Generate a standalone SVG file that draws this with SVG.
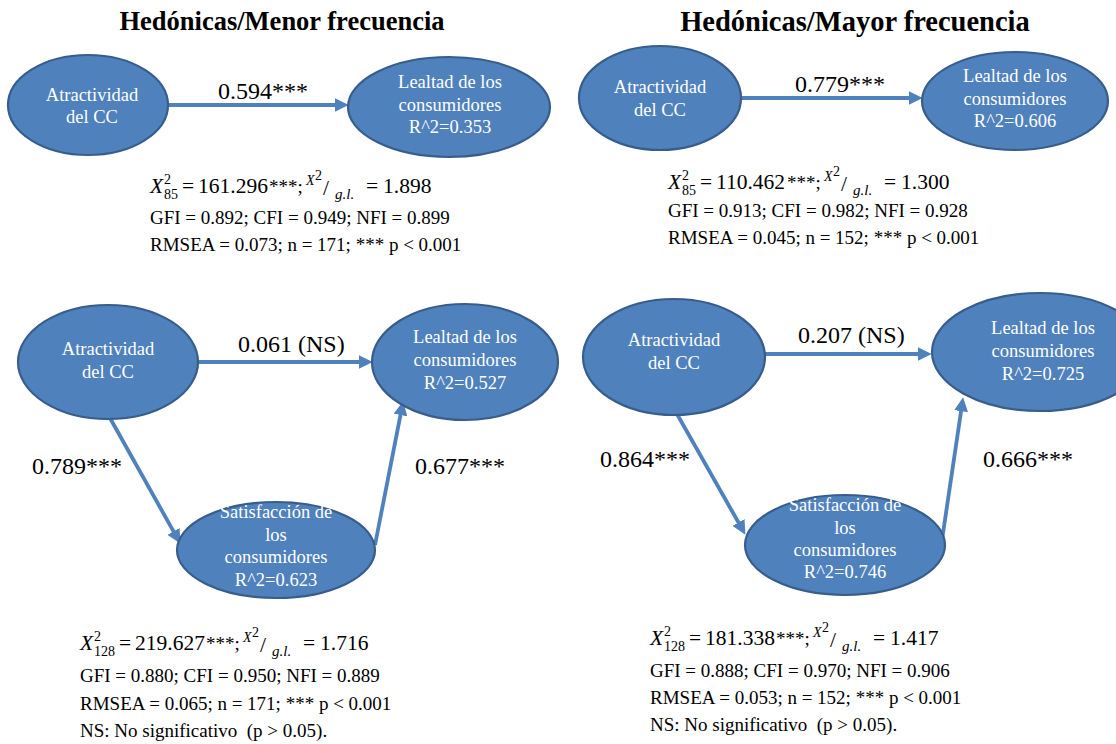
<svg xmlns="http://www.w3.org/2000/svg" width="1116" height="744" viewBox="0 0 1116 744">
  <style>
    .title { font-family: "Liberation Serif", "Times New Roman", serif; font-weight: bold; fill: #000; text-anchor: middle; }
    .node ellipse { fill: #4F81BD; stroke: #385D8A; stroke-width: 2.2; }
    .node text { font-family: "Liberation Serif", "Times New Roman", serif; font-size: 18.5px; fill: #FFFFFF; text-anchor: middle; }
    .edge { stroke: #4F81BD; stroke-width: 3.8; fill: none; marker-end: url(#arrow); }
    .coef { font-family: "Liberation Serif", "Times New Roman", serif; font-size: 24px; fill: #000; }
    .fit { font-family: "Liberation Serif", "Times New Roman", serif; font-size: 19px; fill: #000; }
    .m { font-family: "Liberation Serif", "Times New Roman", serif; font-size: 21.5px; fill: #000; }
    .mi { font-family: "Liberation Serif", "Times New Roman", serif; font-style: italic; fill: #000; }
    .ms { font-family: "Liberation Serif", "Times New Roman", serif; font-size: 14px; fill: #000; }
  </style>
  <defs>
    <marker id="arrow" markerUnits="userSpaceOnUse" markerWidth="14" markerHeight="14" viewBox="0 0 13 13" refX="4" refY="6.5" orient="auto">
      <path d="M0,0 L13,6.5 L0,13 z" fill="#4F81BD"/>
    </marker>
  </defs>

  <!-- panel titles -->
  <text class="title" x="282" y="30" font-size="26.5">Hedónicas/Menor frecuencia</text>
  <text class="title" x="855" y="31" font-size="28.5">Hedónicas/Mayor frecuencia</text>

  <!-- connectors -->
  <g id="connectors">
    <line class="edge" x1="168" y1="105" x2="339" y2="105"/>
    <line class="edge" x1="741" y1="98" x2="913" y2="98"/>
    <line class="edge" x1="198" y1="362" x2="363" y2="362"/>
    <line class="edge" x1="110" y1="418" x2="175.6" y2="535.1"/>
    <line class="edge" x1="375" y1="545" x2="401.3" y2="410.8"/>
    <line class="edge" x1="765" y1="354" x2="922" y2="354"/>
    <line class="edge" x1="677" y1="414" x2="740.6" y2="526.2"/>
    <line class="edge" x1="942" y1="540" x2="961.7" y2="406.9"/>
  </g>

  <!-- path coefficients -->
  <g id="coefficients">
    <text class="coef" x="218" y="99">0.594***</text>
    <text class="coef" x="795" y="92">0.779***</text>
    <text class="coef" x="238" y="352">0.061 (NS)</text>
    <text class="coef" x="32" y="474">0.789***</text>
    <text class="coef" x="415" y="474">0.677***</text>
    <text class="coef" x="798" y="343">0.207 (NS)</text>
    <text class="coef" x="600" y="467">0.864***</text>
    <text class="coef" x="983" y="467">0.666***</text>
  </g>

  <!-- Menor frecuencia, direct model -->
  <g id="atractividad-menor-1" class="node">
    <ellipse cx="88" cy="105" rx="80" ry="50"/>
    <text x="92" y="101">Atractividad</text>
    <text x="92" y="123">del CC</text>
  </g>
  <g id="lealtad-menor-1" class="node">
    <ellipse cx="449" cy="107" rx="101" ry="50"/>
    <text x="450" y="88">Lealtad de los</text>
    <text x="450" y="111">consumidores</text>
    <text x="450" y="133">R^2=0.353</text>
  </g>

  <!-- Mayor frecuencia, direct model -->
  <g id="atractividad-mayor-1" class="node">
    <ellipse cx="660" cy="98" rx="81" ry="52"/>
    <text x="660" y="93">Atractividad</text>
    <text x="660" y="116">del CC</text>
  </g>
  <g id="lealtad-mayor-1" class="node">
    <ellipse cx="1015" cy="101" rx="93" ry="49"/>
    <text x="1015" y="82">Lealtad de los</text>
    <text x="1015" y="105">consumidores</text>
    <text x="1015" y="127">R^2=0.606</text>
  </g>

  <!-- Menor frecuencia, mediated model -->
  <g id="atractividad-menor-2" class="node">
    <ellipse cx="108" cy="362" rx="90" ry="57"/>
    <text x="108" y="355">Atractividad</text>
    <text x="108" y="378">del CC</text>
  </g>
  <g id="lealtad-menor-2" class="node">
    <ellipse cx="465" cy="362" rx="93" ry="58"/>
    <text x="465" y="343">Lealtad de los</text>
    <text x="465" y="366">consumidores</text>
    <text x="465" y="389">R^2=0.527</text>
  </g>
  <g id="satisfaccion-menor" class="node">
    <ellipse cx="276" cy="550" rx="99" ry="48"/>
    <text x="276" y="518">Satisfacción de</text>
    <text x="276" y="541">los</text>
    <text x="276" y="563">consumidores</text>
    <text x="276" y="586">R^2=0.623</text>
  </g>

  <!-- Mayor frecuencia, mediated model -->
  <g id="atractividad-mayor-2" class="node">
    <ellipse cx="674" cy="357" rx="91" ry="58"/>
    <text x="674" y="346">Atractividad</text>
    <text x="674" y="369">del CC</text>
  </g>
  <g id="lealtad-mayor-2" class="node">
    <ellipse cx="1040" cy="352" rx="108" ry="59"/>
    <text x="1043" y="334">Lealtad de los</text>
    <text x="1043" y="357">consumidores</text>
    <text x="1043" y="380">R^2=0.725</text>
  </g>
  <g id="satisfaccion-mayor" class="node">
    <ellipse cx="845" cy="545" rx="100" ry="50"/>
    <text x="845" y="511">Satisfacción de</text>
    <text x="845" y="534">los</text>
    <text x="845" y="556">consumidores</text>
    <text x="845" y="578">R^2=0.746</text>
  </g>

  <!-- fit statistics, Menor frecuencia direct -->
  <g id="fit-menor-1" transform="translate(150,193)">
    <text class="mi" font-size="21.5" x="0" y="0">X</text>
    <text class="ms" x="14" y="-9">2</text>
    <text class="ms" x="14" y="6">85</text>
    <text class="m" x="32" y="0">=</text>
    <text class="m" x="48" y="0">161.296</text>
    <text class="fit" x="119" y="0">***;</text>
    <text class="mi" font-size="14" x="156" y="-8">X</text>
    <text class="ms" font-size="10" x="165" y="-13">2</text>
    <text class="m" font-size="25" x="173" y="2">/</text>
    <text class="mi" font-size="15" x="185" y="6">g.l.</text>
    <text class="m" x="216" y="0">=</text>
    <text class="m" x="233" y="0">1.898</text>
  </g>
  <text class="fit" x="150" y="224">GFI = 0.892; CFI = 0.949; NFI = 0.899</text>
  <text class="fit" x="150" y="251">RMSEA = 0.073; n = 171; *** p &lt; 0.001</text>

  <!-- fit statistics, Mayor frecuencia direct -->
  <g id="fit-mayor-1" transform="translate(668,189)">
    <text class="mi" font-size="21.5" x="0" y="0">X</text>
    <text class="ms" x="14" y="-9">2</text>
    <text class="ms" x="14" y="6">85</text>
    <text class="m" x="32" y="0">=</text>
    <text class="m" x="48" y="0">110.462</text>
    <text class="fit" x="119" y="0">***;</text>
    <text class="mi" font-size="14" x="156" y="-8">X</text>
    <text class="ms" font-size="10" x="165" y="-13">2</text>
    <text class="m" font-size="25" x="173" y="2">/</text>
    <text class="mi" font-size="15" x="185" y="6">g.l.</text>
    <text class="m" x="216" y="0">=</text>
    <text class="m" x="233" y="0">1.300</text>
  </g>
  <text class="fit" x="668" y="217">GFI = 0.913; CFI = 0.982; NFI = 0.928</text>
  <text class="fit" x="668" y="244">RMSEA = 0.045; n = 152; *** p &lt; 0.001</text>

  <!-- fit statistics, Menor frecuencia mediated -->
  <g id="fit-menor-2" transform="translate(80,650)">
    <text class="mi" font-size="21.5" x="0" y="0">X</text>
    <text class="ms" x="14" y="-9">2</text>
    <text class="ms" x="14" y="6">128</text>
    <text class="m" x="39" y="0">=</text>
    <text class="m" x="55" y="0">219.627</text>
    <text class="fit" x="126" y="0">***;</text>
    <text class="mi" font-size="14" x="163" y="-8">X</text>
    <text class="ms" font-size="10" x="172" y="-13">2</text>
    <text class="m" font-size="25" x="180" y="2">/</text>
    <text class="mi" font-size="15" x="192" y="6">g.l.</text>
    <text class="m" x="223" y="0">=</text>
    <text class="m" x="240" y="0">1.716</text>
  </g>
  <text class="fit" x="80" y="682">GFI = 0.880; CFI = 0.950; NFI = 0.889</text>
  <text class="fit" x="80" y="710">RMSEA = 0.065; n = 171; *** p &lt; 0.001</text>
  <text class="fit" x="80" y="737">NS: No significativo&#160; (p &gt; 0.05).</text>

  <!-- fit statistics, Mayor frecuencia mediated -->
  <g id="fit-mayor-2" transform="translate(650,645)">
    <text class="mi" font-size="21.5" x="0" y="0">X</text>
    <text class="ms" x="14" y="-9">2</text>
    <text class="ms" x="14" y="6">128</text>
    <text class="m" x="39" y="0">=</text>
    <text class="m" x="55" y="0">181.338</text>
    <text class="fit" x="126" y="0">***;</text>
    <text class="mi" font-size="14" x="163" y="-8">X</text>
    <text class="ms" font-size="10" x="172" y="-13">2</text>
    <text class="m" font-size="25" x="180" y="2">/</text>
    <text class="mi" font-size="15" x="192" y="6">g.l.</text>
    <text class="m" x="223" y="0">=</text>
    <text class="m" x="240" y="0">1.417</text>
  </g>
  <text class="fit" x="650" y="677">GFI = 0.888; CFI = 0.970; NFI = 0.906</text>
  <text class="fit" x="650" y="704">RMSEA = 0.053; n = 152; *** p &lt; 0.001</text>
  <text class="fit" x="650" y="731">NS: No significativo&#160; (p &gt; 0.05).</text>
</svg>
